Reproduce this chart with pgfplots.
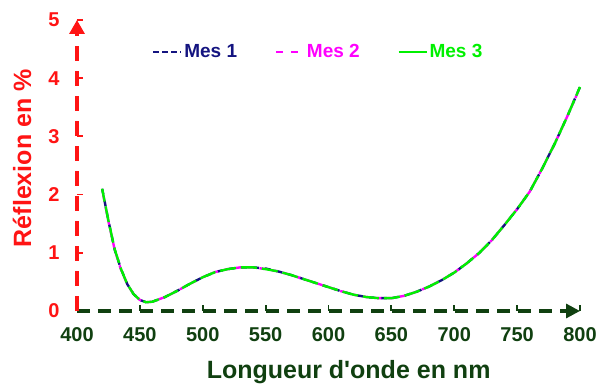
\documentclass[border=0pt]{standalone}
\usepackage{pgfplots}
\pgfplotsset{compat=1.18}
\usepackage{fontspec}
\setmainfont{Liberation Sans}[Ligatures=TeXOff]
\usetikzlibrary{arrows.meta}

\definecolor{axred}{RGB}{255,20,20}
\definecolor{axgreen}{RGB}{16,64,16}
\definecolor{mesA}{RGB}{20,20,128}
\definecolor{mesB}{RGB}{255,0,255}
\definecolor{mesC}{RGB}{0,240,0}

% longueur d'onde (nm), reflexion (%)
\pgfplotstableread{
x     y
420   2.10
425   1.55
430   1.05
435   0.72
440   0.46
445   0.29
450   0.19
455   0.15
460   0.16
470   0.24
480   0.35
490   0.47
500   0.58
510   0.67
520   0.72
530   0.75
540   0.75
550   0.73
560   0.68
570   0.62
580   0.55
590   0.48
600   0.41
610   0.34
620   0.28
630   0.24
640   0.22
650   0.22
660   0.26
670   0.33
680   0.42
690   0.53
700   0.66
710   0.82
720   1.00
730   1.22
740   1.48
750   1.75
760   2.05
770   2.45
780   2.88
790   3.35
800   3.85
}\mesun

\pgfplotstableread{
x     y
420   2.09
425   1.54
430   1.05
435   0.71
440   0.46
445   0.29
450   0.19
455   0.15
460   0.16
470   0.24
480   0.35
490   0.47
500   0.58
510   0.67
520   0.72
530   0.75
540   0.75
550   0.72
560   0.68
570   0.62
580   0.55
590   0.48
600   0.41
610   0.34
620   0.28
630   0.24
640   0.22
650   0.22
660   0.26
670   0.33
680   0.42
690   0.53
700   0.66
710   0.82
720   1.00
730   1.22
740   1.48
750   1.75
760   2.05
770   2.45
780   2.88
790   3.35
800   3.84
}\mesdeux

\pgfplotstableread{
x     y
420   2.10
425   1.55
430   1.06
435   0.72
440   0.46
445   0.29
450   0.19
455   0.15
460   0.16
470   0.24
480   0.35
490   0.47
500   0.58
510   0.67
520   0.72
530   0.75
540   0.75
550   0.72
560   0.68
570   0.62
580   0.55
590   0.48
600   0.41
610   0.34
620   0.28
630   0.24
640   0.22
650   0.22
660   0.26
670   0.33
680   0.42
690   0.53
700   0.66
710   0.82
720   1.00
730   1.22
740   1.48
750   1.75
760   2.05
770   2.45
780   2.88
790   3.35
800   3.85
}\mestrois

\begin{document}
\begin{tikzpicture}
\begin{axis}[
    name=ax,
    scale only axis,
    width=503pt, height=291pt,
    xmin=400, xmax=800,
    ymin=0, ymax=5,
    axis lines=left,
    clip=false,
    xtick={400,450,...,800},
    ytick={0,1,...,5},
    tick align=inside,
    major tick length=6pt,
    /pgf/number format/assume math mode=true,
    x axis line style={axgreen, line width=3.2pt, dash pattern=on 13pt off 8pt, -{Triangle[length=14pt,width=14pt]}},
    y axis line style={axred, line width=3.2pt, dash pattern=on 15pt off 10pt, -{Triangle[length=14pt,width=15pt]}},
    x tick style={axgreen, line width=1.8pt},
    y tick style={axred, line width=1.8pt},
    xticklabel style={font=\fontsize{20}{22}\selectfont\bfseries, text=axgreen, yshift=-13pt},
    yticklabel style={font=\fontsize{20}{22}\selectfont\bfseries, text=axred, xshift=-14pt},
    xlabel={Longueur d'onde en nm},
    ylabel={Réflexion en \%},
    xlabel style={font=\fontsize{25}{28}\selectfont\bfseries, text=axgreen,
        at={([yshift=-61pt]rel axis cs:0.54,0)}, anchor=center},
    ylabel style={font=\fontsize{25}{28}\selectfont\bfseries, text=axred,
        at={([xshift=-55pt]rel axis cs:0,0.525)}, anchor=center},
    legend columns=3,
    legend style={at={(rel axis cs:0.48,0.89)}, anchor=center, draw=none, fill=none,
        font=\fontsize{19}{21}\selectfont\bfseries,
        /tikz/every even column/.append style={column sep=36pt}},
    legend cell align=left,
    legend image code/.code={\draw[#1] (0pt,0pt) -- (28pt,0pt);},
]
\addlegendimage{mesA, line width=1.8pt, dash pattern=on 6pt off 3pt}
\addlegendentry{\textcolor{mesA}{Mes 1}}
\addlegendimage{mesB, line width=1.8pt, dash pattern=on 7pt off 8pt}
\addlegendentry{\textcolor{mesB}{Mes 2}}
\addlegendimage{mesC, line width=1.8pt}
\addlegendentry{\textcolor{mesC}{Mes 3}}

\addplot[forget plot, mesA, line width=2.4pt, dash pattern=on 6pt off 6pt] table[x=x,y=y] {\mesun};
\addplot[forget plot, mesB, line width=2.4pt, dash pattern=on 6pt off 6pt, dash phase=6pt] table[x=x,y=y] {\mesdeux};
\addplot[forget plot, mesC, line width=2.4pt, dash pattern=on 16pt off 5pt, dash phase=3pt] table[x=x,y=y] {\mestrois};
\end{axis}
\pgfresetboundingbox
\path[use as bounding box] ([xshift=-77pt,yshift=-76pt]ax.south west) rectangle ([xshift=26pt,yshift=20pt]ax.north east);
\end{tikzpicture}
\end{document}
